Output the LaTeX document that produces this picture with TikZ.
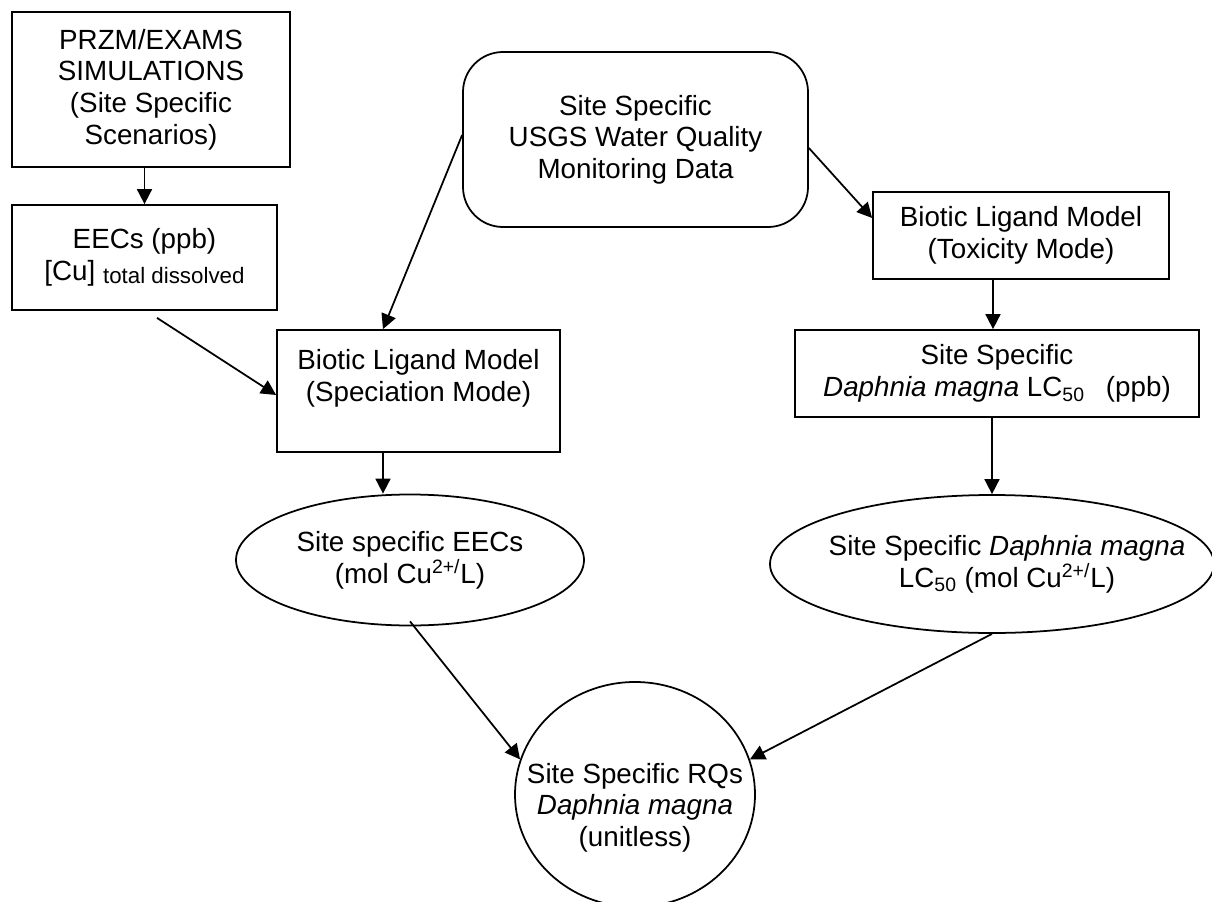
\documentclass[tikz,border=0pt]{standalone}
\usepackage{fontspec}
\setmainfont{Liberation Sans}
\usepackage{tikz}
\usetikzlibrary{shapes.geometric,arrows.meta}

\newcommand{\mainsize}{\fontsize{15.8}{18}\selectfont}
\newcommand{\subsize}{\fontsize{12.7}{14}\selectfont}

\tikzset{
  blk/.style={draw, line width=1pt, align=center, inner sep=0pt},
  oval/.style={draw, line width=1pt, ellipse, inner sep=0pt},
  conn/.style={line width=1pt, -{Triangle[length=0.3cm,width=0.3cm]}}
}

\begin{document}
\begin{tikzpicture}[font=\mainsize]
\useasboundingbox (0,0) rectangle (24.24,-18.04);

% left column
\node[blk, minimum width=5.56cm, minimum height=3.1cm] (przm) at (3.02,-1.79)
  {PRZM/EXAMS\\SIMULATIONS\\(Site Specific\\Scenarios)};
\node[blk, minimum width=5.3cm, minimum height=2.1cm] (eecs) at (2.89,-5.15)
  {EECs (ppb)\\{}[Cu] \raisebox{-0.1em}{\subsize total dissolved}};

% monitoring data
\node[blk, rounded corners=0.8cm, minimum width=6.9cm, minimum height=3.5cm] (usgs) at (12.71,-2.79)
  {Site Specific\\USGS Water Quality\\Monitoring Data};

% BLM boxes
\node[blk, minimum width=5.92cm, minimum height=1.74cm] (tox) at (20.42,-4.71)
  {Biotic Ligand Model\\(Toxicity Mode)};
\node[blk, minimum width=8.08cm, minimum height=1.74cm] (lcbox) at (19.94,-7.47)
  {Site Specific\\\textit{Daphnia magna} LC\textsubscript{50}\hspace{0.42cm}(ppb)};
\node[blk, minimum width=5.66cm, minimum height=2.44cm] (spec) at (8.37,-7.82)
  {Biotic Ligand Model\\(Speciation Mode)\\\mbox{}};

% ovals
\node[oval, minimum width=6.96cm, minimum height=2.62cm] (eecell) at (8.2,-11.2) {};
\node[align=center] (eecell-txt) at (eecell) {Site specific EECs\\(mol Cu\textsuperscript{2+/}L)};
\node[oval, minimum width=8.88cm, minimum height=2.76cm] (lcell) at (19.84,-11.28) {};
\node[align=center] (lcell-txt) at ([xshift=0.3cm]lcell.center)
  {Site Specific \textit{Daphnia magna}\\LC\textsubscript{50} (mol Cu\textsuperscript{2+/}L)};
\node[oval, minimum width=4.8cm, minimum height=4.5cm] (rq) at (12.7,-15.89) {};
\node[align=center] (rq-txt) at ([yshift=-0.26cm]rq.center) {Site Specific RQs\\\textit{Daphnia magna}\\(unitless)};

% arrows
\draw[conn] (eecs.north |- przm.south) -- (eecs.north);
\draw[conn] ([xshift=0.25cm,yshift=-0.14cm]eecs.south) -- ([yshift=-0.08cm]spec.west);
\draw[conn] ([yshift=0.09cm]usgs.west) -- ([xshift=-0.71cm]spec.north);
\draw[conn] ([yshift=-0.17cm]usgs.east) -- ([yshift=0.35cm]tox.west);
\draw[conn] ([xshift=-0.56cm]tox.south) -- ([xshift=-0.56cm]tox.south |- lcbox.north);
\draw[conn] (lcell.north |- lcbox.south) -- (lcell.north);
\draw[conn] ([xshift=-0.71cm]spec.south) -- ([xshift=-0.71cm]spec.south |- eecell.north);
\draw[conn] ([yshift=0.1cm]eecell.south) -- (rq.163);
\draw[conn] (lcell.south) -- (rq.17);
\end{tikzpicture}
\end{document}
